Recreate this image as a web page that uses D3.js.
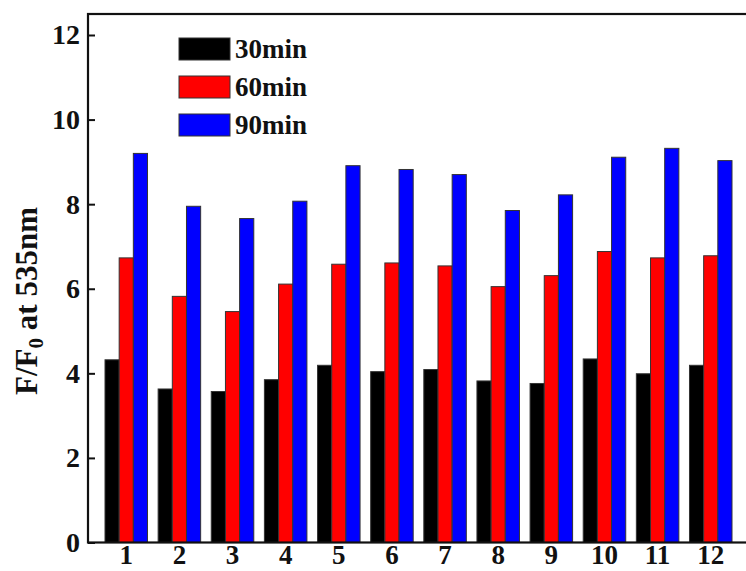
<!DOCTYPE html>
<html>
<head>
<meta charset="utf-8">
<script src="https://cdn.jsdelivr.net/npm/d3@7"></script>
<style>
  body { margin: 0; background: #fff; }
  text { font-family: "Liberation Serif", "Times New Roman", serif; font-weight: bold; fill: #111; }
</style>
</head>
<body>
<svg id="chart"></svg>
<script>
// data
const samples = ["1", "2", "3", "4", "5", "6", "7", "8", "9", "10", "11", "12"];
const seriesNames = ["30min", "60min", "90min"];
const colors = ["#000000", "#ff0000", "#0000ff"];
const v30 = [4.32, 3.63, 3.57, 3.85, 4.19, 4.04, 4.09, 3.82, 3.76, 4.34, 3.99, 4.19];
const v60 = [6.73, 5.82, 5.46, 6.11, 6.58, 6.61, 6.54, 6.05, 6.31, 6.88, 6.73, 6.78];
const v90 = [9.20, 7.95, 7.66, 8.07, 8.91, 8.82, 8.70, 7.85, 8.22, 9.11, 9.32, 9.03];
const yTicks = [0, 2, 4, 6, 8, 10, 12];

const width = 746, height = 571;
const plotL = 88, plotR = 749, plotT = 14, plotB = 542.5;

const svg = d3.select("#chart").attr("width", width).attr("height", height);

const x = d3.scaleBand().domain(samples).range([plotL, plotR])
  .paddingInner(0.2).paddingOuter(0.32);
const xs = d3.scaleBand().domain(seriesNames).range([0, x.bandwidth()]);
// 12 sits at y=35 in the reference
const y = d3.scaleLinear()
  .domain([0, (plotB - plotT) / ((plotB - 35) / 12)])
  .range([plotB, plotT]);

const table = samples.map((s, i) => ({ name: s, values: [v30[i], v60[i], v90[i]] }));

// bars
const g = svg.append("g");
g.selectAll("g.grp").data(table).enter()
  .append("g")
  .attr("class", "grp")
  .attr("transform", d => `translate(${x(d.name)},0)`)
  .selectAll("rect").data(d => d.values.map((v, k) => ({ key: seriesNames[k], v: v, k: k })))
  .enter().append("rect")
  .attr("x", d => xs(d.key))
  .attr("width", xs.bandwidth())
  .attr("y", d => y(d.v))
  .attr("height", d => y(0) - y(d.v))
  .attr("fill", d => colors[d.k])
  .attr("stroke", "#333")
  .attr("stroke-width", 1);

// frame
svg.append("rect")
  .attr("x", plotL).attr("y", plotT)
  .attr("width", plotR - plotL).attr("height", plotB - plotT)
  .attr("fill", "none").attr("stroke", "#111").attr("stroke-width", 2.2);

// y axis, ticks inward
const yAxis = d3.axisLeft(y).tickValues(yTicks).tickSize(-7).tickPadding(8).tickFormat(d3.format("d"));
const ya = svg.append("g").attr("transform", `translate(${plotL},0)`).call(yAxis);
ya.select(".domain").remove();
ya.selectAll("line").attr("stroke", "#111").attr("stroke-width", 2);
ya.selectAll("text").style("font-size", "28px").attr("fill", "#111");

// x axis labels
const xAxis = d3.axisBottom(x).tickSize(0).tickPadding(2);
const xa = svg.append("g").attr("transform", `translate(0,${plotB})`).call(xAxis);
xa.select(".domain").remove();
xa.selectAll("text").style("font-size", "27px").attr("fill", "#111");

// y label
const yl = svg.append("text")
  .attr("transform", `translate(37,301) rotate(-90)`)
  .attr("text-anchor", "middle")
  .style("font-size", "31px");
yl.append("tspan").text("F/F");
yl.append("tspan").attr("dy", 6).style("font-size", "21px").text("0");
yl.append("tspan").attr("dy", -6).text(" at 535nm");

// legend
const leg = svg.append("g").selectAll("g").data(seriesNames).enter()
  .append("g")
  .attr("transform", (d, i) => `translate(179,${38 + i * 38})`);
leg.append("rect")
  .attr("width", 51).attr("height", 22)
  .attr("fill", (d, i) => colors[i])
  .attr("stroke", "#333").attr("stroke-width", 1);
leg.append("text")
  .attr("x", 56).attr("y", 20)
  .style("font-size", "27px")
  .text(d => d);
</script>
</body>
</html>
